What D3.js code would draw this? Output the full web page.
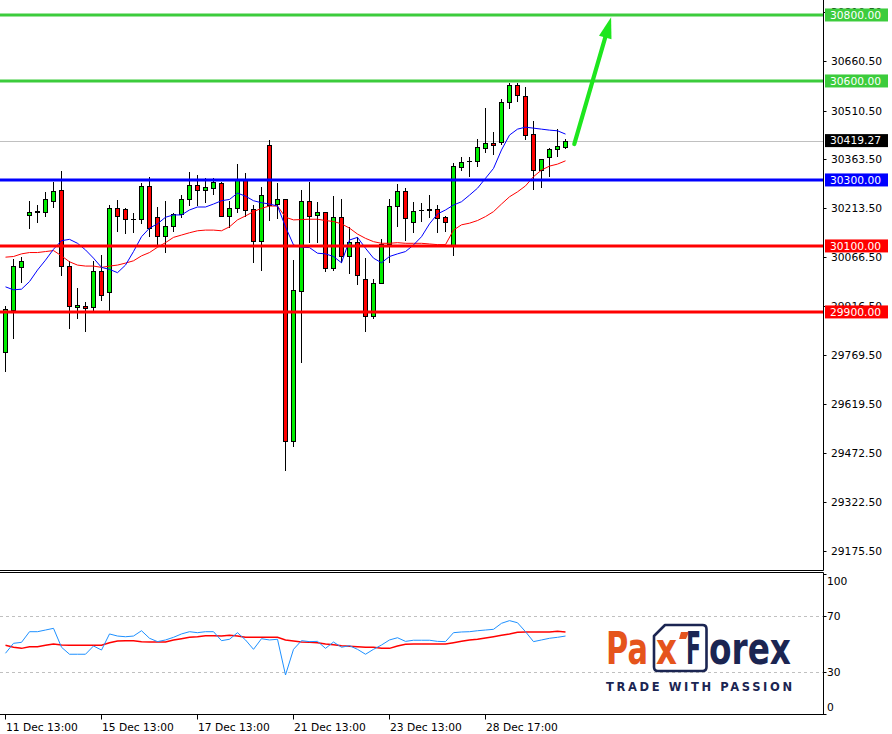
<!DOCTYPE html>
<html><head><meta charset="utf-8">
<script src="https://cdn.jsdelivr.net/npm/d3@7"></script>
<style>
html,body{margin:0;padding:0;background:#fff;}
svg{display:block;}
text{font-family:"DejaVu Sans",Verdana,sans-serif;}
</style></head>
<body>
<svg id="chart" width="892" height="734"></svg>
<script>
// ---------- DATA ----------
const xTickIndex = [0, 12, 24, 36, 48, 60];
const xTickLabels = ["11 Dec 13:00", "15 Dec 13:00", "17 Dec 13:00", "21 Dec 13:00", "23 Dec 13:00", "28 Dec 17:00"];
const priceTickLabels = ["30810.50","30660.50","30510.50","30363.50","30213.50","30066.50","29916.50","29769.50","29619.50","29472.50","29322.50","29175.50"];
const oscTicks = [100, 70, 30, 0];
const oscLevels = [70, 30];

const open = [29778,29906,30037,30195,30202,30202,30237,30269,30038,29914,
  29917,29914,30023,29960,30214,30211,30181,30181,30282,30187,
  30129,30161,30196,30241,30284,30269,30275,30290,30192,30214,
  30304,30211,30114,30405,30226,30241,29508,29963,30235,30193,
  30202,30032,30187,30069,30111,29999,29887,29987,30105,30220,
  30266,30172,30208,30210,30211,30187,30103,30340,30357,30357,
  30396,30411,30414,30535,30587,30554,30438,30329,30370,30393,
  30399];
const high = [29918,30060,30068,30236,30225,30264,30295,30327,30054,29973,
  29931,30054,30072,30224,30238,30215,30199,30290,30309,30217,
  30236,30199,30254,30324,30315,30305,30305,30295,30236,30348,
  30322,30223,30278,30421,30290,30243,30057,30269,30293,30234,
  30204,30251,30242,30158,30128,30063,29999,30120,30241,30287,
  30275,30232,30229,30254,30224,30191,30351,30369,30369,30423,
  30517,30446,30545,30593,30593,30581,30478,30364,30396,30454,
  30423];
const low = [29719,29818,29989,30151,30171,30189,30216,30010,29849,29878,
  29840,29901,29933,29901,30143,30137,30140,30166,30127,30103,
  30078,30143,30184,30221,30221,30229,30255,30187,30154,30201,
  30187,30048,30025,30177,30181,29419,29490,29744,30108,30108,
  30022,30025,30048,30016,29981,29840,29878,29985,30048,30158,
  30114,30138,30172,30185,30140,30143,30070,30328,30310,30340,
  30381,30377,30405,30514,30535,30420,30269,30275,30310,30369,
  30393];
const close = [29908,30039,30054,30203,30206,30241,30267,30038,29917,29921,
  29911,30023,29951,30214,30192,30181,30182,30282,30155,30129,
  30160,30196,30241,30284,30269,30278,30293,30192,30214,30304,
  30208,30114,30254,30223,30241,29508,29966,30235,30191,30202,
  30032,30187,30069,30111,30011,29887,29987,30105,30220,30266,
  30184,30205,30209,30211,30186,30174,30341,30354,30358,30399,
  30411,30405,30535,30587,30557,30435,30329,30363,30393,30402,
  30419.27];
const maFast = [29976,29967,29969,29992,30027,30057,30090,30116,30120,30108,
  30088,30063,30035,30029,30019,30042,30083,30128,30154,30167,
  30187,30194,30194,30209,30218,30218,30227,30237,30241,30260,
  30251,30237,30231,30227,30221,30158,30103,30096,30095,30078,
  30076,30068,30049,30118,30126,30093,30063,30049,30068,30076,
  30083,30103,30128,30167,30197,30209,30224,30234,30254,30275,
  30305,30335,30391,30436,30454,30460,30457,30454,30451,30449,
  30439];
const maSlow = [30066,30068,30076,30080,30080,30083,30086,30070,30052,30042,
  30039,30039,30035,30039,30042,30048,30055,30070,30080,30096,
  30110,30126,30133,30140,30146,30148,30148,30146,30158,30179,
  30191,30204,30214,30221,30221,30187,30179,30180,30181,30181,
  30177,30174,30167,30154,30136,30123,30113,30108,30108,30110,
  30108,30108,30108,30106,30104,30104,30148,30164,30169,30177,
  30189,30204,30227,30249,30264,30282,30310,30330,30342,30348,
  30358];
const oscMain = [43.6,50.7,51.4,59,59,60.2,61.4,47.9,42.9,42.9,
  42.9,48.8,45.9,57.4,55.9,55.4,55.9,59.7,54.3,51.9,
  53.1,55,57.4,59,58.3,59,59,52.6,53.6,58.3,
  53.1,46.4,54,53.1,53.6,28.1,46.4,52.6,51.9,52.1,
  47.1,51.6,47.9,49,46.4,42.9,46.4,49.5,53.1,54.7,
  52.1,52.9,52.9,52.9,52.1,51.9,58.3,58.8,59,59.7,
  60.2,60.7,65,66.9,65.4,59,51.9,53.1,54.3,55,
  55.9];
const oscSignal = [49.3,47.9,47.1,48.3,48.3,49.3,50.2,49.5,49.3,49.3,
  49.3,49.3,49.3,51.1,52.4,52.6,52.6,51.9,51.6,51.6,
  51.6,53.1,54,55,55.4,56.1,56.1,55.9,56.4,55.9,
  55,55,55,55,55,53.1,52.4,51.6,51.4,51.1,
  50.2,49.7,49,48.6,48.3,47.9,47.9,47.1,47.1,48.8,
  50,50.2,50.2,50.2,50.2,50.2,51.1,52.1,53.1,53.6,
  54.5,55.4,56.4,57.4,58.6,58.8,58.8,58.8,58.8,59.3,
  58.8];
const levelPrices = [30800, 30600, 30300, 30100, 29900];
const levelLabels = ["30800.00", "30600.00", "30300.00", "30100.00", "29900.00"];
const levelColors = ["#3ccc3c", "#3ccc3c", "#0000ff", "#ff0000", "#ff0000"];
const lastPrice = 30419.27;
const lastLabel = "30419.27";
const arrowIndex = [71.1, 75.7];
const arrowPrice = [30409, 30793];

// ---------- LAYOUT ----------
const svg = d3.select("#chart");
const axisX = 823.5;
const mainBottom = 570;
const oscTop = 573, oscBottom = 714.5;

const x = d3.scaleLinear().domain([0, 70]).range([5.5, 565.5]);
const y = d3.scaleLinear().domain([29120.9, 30845.4]).range([569, 0]);
const yo = d3.scaleLinear().domain([0, 100]).range([714.3, 574.3]);

const defs = svg.append("defs");
defs.append("clipPath").attr("id","cMain").append("rect").attr("x",0).attr("y",0).attr("width",axisX).attr("height",mainBottom);
defs.append("clipPath").attr("id","cOsc").append("rect").attr("x",0).attr("y",oscTop).attr("width",axisX).attr("height",oscBottom-oscTop);

const main = svg.append("g").attr("clip-path","url(#cMain)");

// current price line
main.append("line").attr("x1",0).attr("x2",axisX).attr("y1",Math.round(y(lastPrice))+0.5).attr("y2",Math.round(y(lastPrice))+0.5)
  .attr("stroke","#c0c0c0").attr("stroke-width",1);

// candles
const idx = d3.range(open.length);
const cg = main.append("g");
idx.forEach(i => {
  const cx = x(i);
  const yh = Math.round(y(high[i])), yl = Math.round(y(low[i]));
  cg.append("line").attr("x1",cx).attr("x2",cx).attr("y1",yh).attr("y2",yl).attr("stroke","#000").attr("stroke-width",1);
  const yt = Math.round(y(Math.max(open[i],close[i]))) + 0.5;
  const yb = Math.round(y(Math.min(open[i],close[i]))) + 0.5;
  const up = close[i] >= open[i];
  if (yb - yt < 1) {
    cg.append("line").attr("x1",cx-2.5).attr("x2",cx+2.5).attr("y1",yt).attr("y2",yt).attr("stroke","#000").attr("stroke-width",1);
  } else {
    cg.append("rect").attr("x",cx-2).attr("width",4).attr("y",yt).attr("height",yb-yt)
      .attr("fill", up ? "#00ee00" : "#ff0000").attr("stroke","#000").attr("stroke-width",1);
  }
});

// moving averages
const maLine = arr => d3.line().x((d,i)=>x(i)).y(d=>y(d))(arr);
main.append("path").attr("d",maLine(maSlow)).attr("fill","none").attr("stroke","#ff0000").attr("stroke-width",1);
main.append("path").attr("d",maLine(maFast)).attr("fill","none").attr("stroke","#0000ff").attr("stroke-width",1);

// level lines
levelPrices.forEach((p,k) => {
  main.append("line").attr("x1",0).attr("x2",axisX).attr("y1",y(p)).attr("y2",y(p))
    .attr("stroke",levelColors[k]).attr("stroke-width",3);
});

// arrow
{
  const x0 = x(arrowIndex[0]), y0 = y(arrowPrice[0]);
  const x1 = x(arrowIndex[1]), y1 = y(arrowPrice[1]);
  const dx = x1-x0, dy = y1-y0, L = Math.hypot(dx,dy);
  const ux = dx/L, uy = dy/L, px = -uy, py = ux;
  const hl = 21, hw = 6.5;
  const bx = x1 - ux*hl, by = y1 - uy*hl;
  main.append("line").attr("x1",x0).attr("y1",y0).attr("x2",bx+ux*2).attr("y2",by+uy*2)
    .attr("stroke","#1ee61e").attr("stroke-width",4.2).attr("stroke-linecap","round");
  main.append("path").attr("d",`M${x1},${y1}L${bx+px*hw},${by+py*hw}L${bx-px*hw},${by-py*hw}Z`)
    .attr("fill","#1ee61e");
}

// ---------- MAIN AXIS ----------
const ax = svg.append("g");
ax.append("line").attr("x1",axisX).attr("x2",axisX).attr("y1",0).attr("y2",mainBottom+0.5).attr("stroke","#000");
ax.append("line").attr("x1",0).attr("x2",axisX).attr("y1",mainBottom+0.5).attr("y2",mainBottom+0.5).attr("stroke","#000");
priceTickLabels.forEach(t => {
  const v = +t, yy = Math.round(y(v))+0.5;
  ax.append("line").attr("x1",axisX).attr("x2",axisX+3).attr("y1",yy).attr("y2",yy).attr("stroke","#000");
  ax.append("text").attr("x",831).attr("y",yy).attr("dy","0.36em").attr("font-size","10.7px").attr("fill","#000").text(t);
});
// level & last-price boxes
const boxes = levelPrices.map((p,k)=>({p, label:levelLabels[k], color:levelColors[k]}));
boxes.push({p:lastPrice, label:lastLabel, color:"#000"});
boxes.forEach(b => {
  const yy = y(b.p);
  ax.append("rect").attr("x",825).attr("y",yy-6.5).attr("width",63).attr("height",13).attr("fill",b.color);
  ax.append("text").attr("x",830).attr("y",yy).attr("dy","0.36em").attr("font-size","10.7px").attr("fill","#fff").text(b.label);
});

// ---------- OSCILLATOR ----------
const og = svg.append("g");
og.append("line").attr("x1",0).attr("x2",axisX).attr("y1",oscTop-0.5).attr("y2",oscTop-0.5).attr("stroke","#000");
oscLevels.forEach(v => {
  og.append("line").attr("x1",0).attr("x2",axisX).attr("y1",Math.round(yo(v))+0.5).attr("y2",Math.round(yo(v))+0.5)
    .attr("stroke","#c0c0c0").attr("stroke-dasharray","3,3");
});
const oscPlot = og.append("g").attr("clip-path","url(#cOsc)");
const oLine = arr => d3.line().x((d,i)=>x(i)).y(d=>yo(d))(arr);
oscPlot.append("path").attr("d",oLine(oscSignal)).attr("fill","none").attr("stroke","#ff0000").attr("stroke-width",1.5);
oscPlot.append("path").attr("d",oLine(oscMain)).attr("fill","none").attr("stroke","#1e90ff").attr("stroke-width",1);

og.append("line").attr("x1",axisX).attr("x2",axisX).attr("y1",oscTop-0.5).attr("y2",oscBottom+0.5).attr("stroke","#000");
oscTicks.forEach(v => {
  const yy = Math.min(Math.max(yo(v), 581), 707);
  og.append("line").attr("x1",axisX).attr("x2",axisX+3).attr("y1",Math.round(yo(v))+0.5).attr("y2",Math.round(yo(v))+0.5).attr("stroke","#000");
  og.append("text").attr("x",827).attr("y",yy).attr("dy","0.36em").attr("font-size","10.7px").attr("fill","#000").text(v);
});

// ---------- X AXIS ----------
const xg = svg.append("g");
xg.append("line").attr("x1",0).attr("x2",axisX+0.5).attr("y1",oscBottom).attr("y2",oscBottom).attr("stroke","#000");
xTickIndex.forEach((ti,k) => {
  const xx = x(ti);
  xg.append("line").attr("x1",xx).attr("x2",xx).attr("y1",oscBottom).attr("y2",oscBottom+5).attr("stroke","#000");
  xg.append("text").attr("x",xx+0.5).attr("y",730.5).attr("font-size","10.7px").attr("fill","#000").text(xTickLabels[k]);
});

// ---------- LOGO ----------
const logo = svg.append("g");
const navy = "#1b2552", orange = "#e5541c";
logo.append("path").attr("d","M665,625 L702.5,625 Q706.5,625 706.5,629 L706.5,667 Q706.5,671 702.5,671 L658,671 Q654,671 654,667 L654,636 Z")
  .attr("fill","none").attr("stroke",navy).attr("stroke-width",2.6).attr("stroke-linejoin","round");
const lf = "Lato, 'Open Sans', sans-serif";
logo.append("text").attr("x",606).attr("y",664).attr("font-family",lf).attr("font-weight",700).attr("font-size","44px")
  .attr("fill",orange).attr("textLength",42).attr("lengthAdjust","spacingAndGlyphs").text("Pa");
logo.append("text").attr("x",656).attr("y",664).attr("font-family",lf).attr("font-weight",700).attr("font-size","44px")
  .attr("fill",orange).attr("textLength",21).attr("lengthAdjust","spacingAndGlyphs").text("x");
logo.append("path").attr("d","M681,632 L689,632 L686,639 L679,639 Z").attr("fill",orange);
logo.append("text").attr("x",686).attr("y",664).attr("font-family",lf).attr("font-weight",700).attr("font-size","44px")
  .attr("fill",navy).attr("textLength",15).attr("lengthAdjust","spacingAndGlyphs").text("F");
logo.append("text").attr("x",709).attr("y",664).attr("font-family",lf).attr("font-weight",700).attr("font-size","44px")
  .attr("fill",navy).attr("textLength",82).attr("lengthAdjust","spacingAndGlyphs").text("orex");
logo.append("text").attr("x",606).attr("y",691).attr("font-family",lf).attr("font-weight",700).attr("font-size","11.5px")
  .attr("fill",navy).attr("textLength",186).attr("lengthAdjust","spacing").text("TRADE WITH PASSION");
</script>
</body></html>
